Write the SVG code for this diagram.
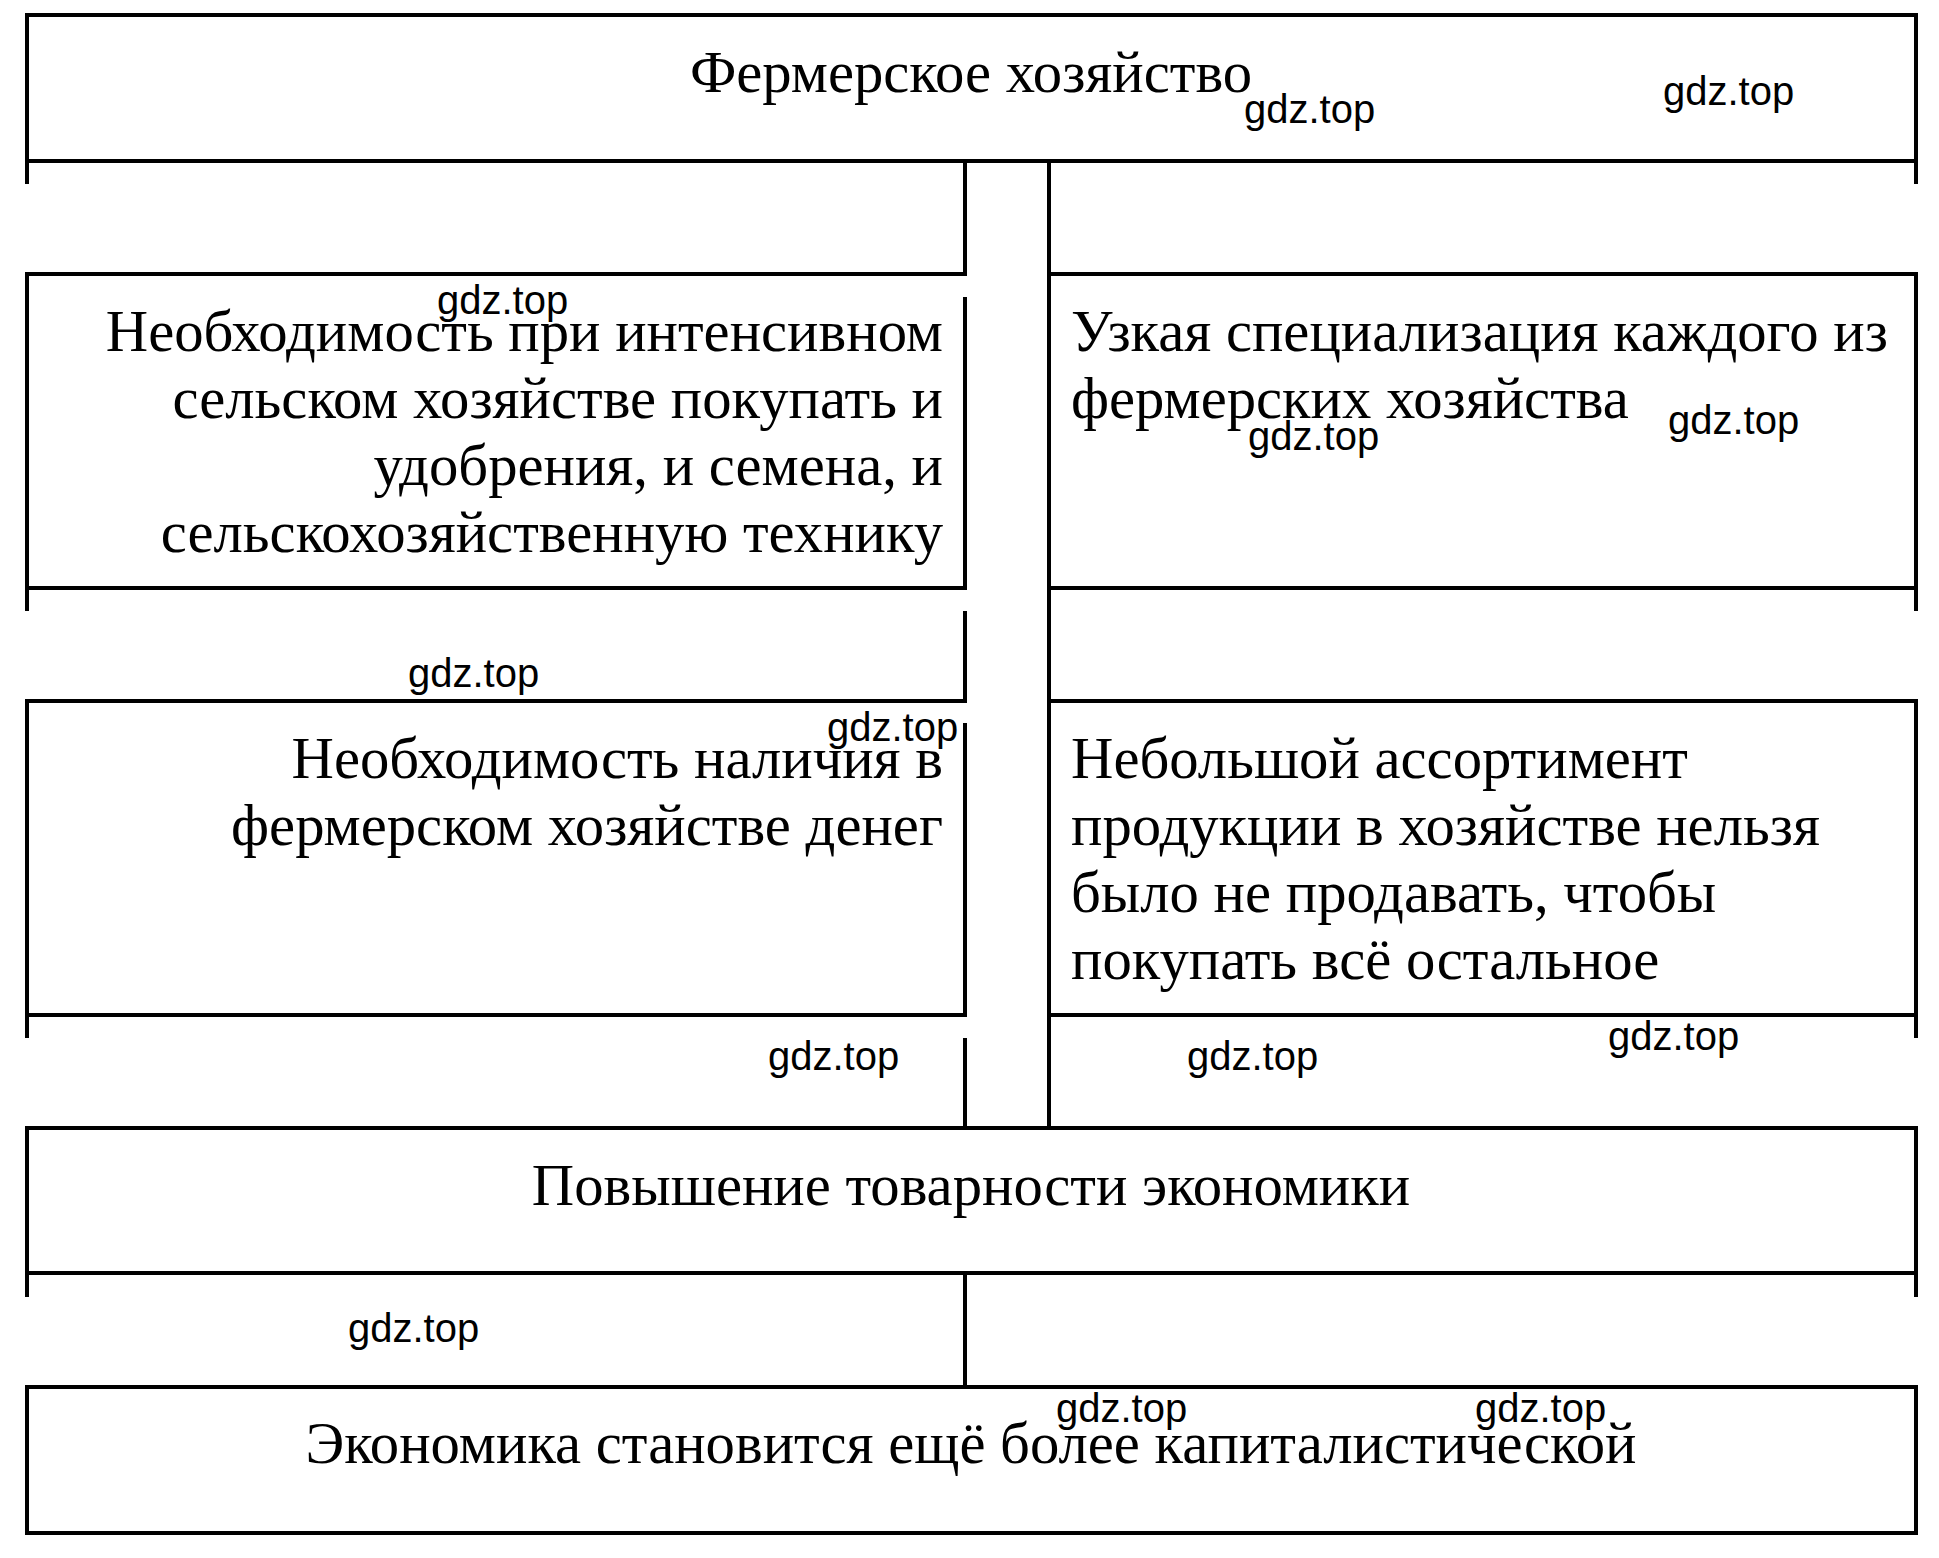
<svg xmlns="http://www.w3.org/2000/svg" width="1939" height="1558" viewBox="0 0 1939 1558">
<style>
.b{stroke:#000;stroke-width:4;fill:none}
.t{font-family:"Liberation Serif","Times New Roman",serif;font-size:58.7px;fill:#000}
.m{text-anchor:middle}
.r{text-anchor:end}
.w{font-family:"Liberation Sans",Arial,sans-serif;font-size:40px;fill:#000}
</style>
<rect width="1939" height="1558" fill="#fff"/>
<g id="connectors" class="b">
<path d="M965 161V275M965 611V701M965 1038V1128M965 1273V1387"/>
<path d="M1049 161V274M1049 588V701M1049 1015V1128"/>
</g>
<g id="n1">
<path class="b" d="M25 15H1918M25 161H1918M27 15V184M1916 15V184"/>
<text class="t m" x="971" y="92">Фермерское хозяйство</text>
</g>
<g id="n2">
<path class="b" d="M25 274H967M25 588H967M27 274V611M965 297V588"/>
<text class="t r" x="943"><tspan x="943" y="351">Необходимость при интенсивном</tspan><tspan x="943" y="418">сельском хозяйстве покупать и</tspan><tspan x="943" y="485">удобрения, и семена, и</tspan><tspan x="943" y="552">сельскохозяйственную технику</tspan></text>
</g>
<g id="n3">
<path class="b" d="M1047 274H1918M1047 588H1918M1916 274V611M1049 274V588"/>
<text class="t" x="1071"><tspan x="1071" y="351">Узкая специализация каждого из</tspan><tspan x="1071" y="418">фермерских хозяйства</tspan></text>
</g>
<g id="n4">
<path class="b" d="M25 701H967M25 1015H967M27 701V1038M965 723V1015"/>
<text class="t r" x="943"><tspan x="943" y="778">Необходимость наличия в</tspan><tspan x="943" y="845">фермерском хозяйстве денег</tspan></text>
</g>
<g id="n5">
<path class="b" d="M1047 701H1918M1047 1015H1918M1916 701V1038M1049 701V1015"/>
<text class="t" x="1071"><tspan x="1071" y="778">Небольшой ассортимент</tspan><tspan x="1071" y="845">продукции в хозяйстве нельзя</tspan><tspan x="1071" y="912">было не продавать, чтобы</tspan><tspan x="1071" y="979">покупать всё остальное</tspan></text>
</g>
<g id="n6">
<path class="b" d="M25 1128H1918M25 1273H1918M27 1128V1297M1916 1128V1297"/>
<text class="t m" x="971" y="1205">Повышение товарности экономики</text>
</g>
<g id="n7">
<path class="b" d="M25 1387H1918M25 1533H1918M27 1387V1533M1916 1387V1533"/>
<text class="t m" x="971" y="1463">Экономика становится ещё более капиталистической</text>
</g>
<g id="watermarks" class="w">
<text x="1244" y="123">gdz.top</text>
<text x="1663" y="105">gdz.top</text>
<text x="437" y="314">gdz.top</text>
<text x="1248" y="450">gdz.top</text>
<text x="1668" y="434">gdz.top</text>
<text x="408" y="687">gdz.top</text>
<text x="827" y="741">gdz.top</text>
<text x="768" y="1070">gdz.top</text>
<text x="1187" y="1070">gdz.top</text>
<text x="1608" y="1050">gdz.top</text>
<text x="348" y="1342">gdz.top</text>
<text x="1056" y="1422">gdz.top</text>
<text x="1475" y="1422">gdz.top</text>
</g>
</svg>
